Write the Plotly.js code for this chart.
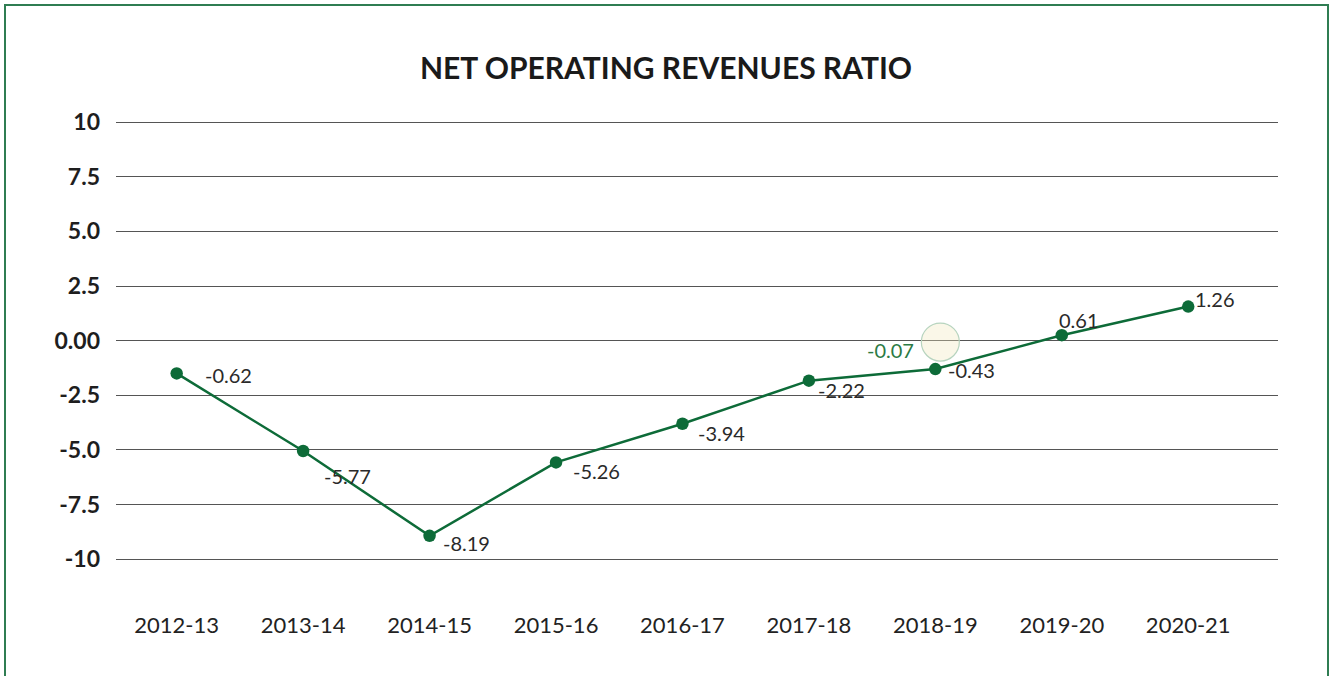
<!DOCTYPE html>
<html>
<head>
<meta charset="utf-8">
<script src="https://cdn.plot.ly/plotly-3.0.1.min.js"></script>
<style>
  body { margin: 0; overflow: hidden; background: #fff; }
  #graph { position: absolute; left: 0; top: 0; width: 1330px; height: 676px; }
  #frame {
    position: absolute; left: 4px; top: 4px; width: 1321px; height: 700px;
    border: 2px solid #2f7d52; border-bottom: none; pointer-events: none;
  }
</style>
</head>
<body>
<div id="graph"></div>
<div id="frame"></div>
<script>
// 年度（カテゴリ）
const years = ["2012-13", "2013-14", "2014-15", "2015-16", "2016-17", "2017-18", "2018-19", "2019-20", "2020-21"];
// 点の位置
const ratioValues = [-1.5, -5.05, -8.93, -5.57, -3.8, -1.83, -1.3, 0.25, 1.56];
// 点の横に表示されるラベル
const ratioLabels = ["-0.62", "-5.77", "-8.19", "-5.26", "-3.94", "-2.22", "-0.43", "0.61", "1.26"];
// y軸の目盛り
const yTickValues = [10, 7.5, 5, 2.5, 0, -2.5, -5, -7.5, -10];
const yTickLabels = ["10", "7.5", "5.0", "2.5", "0.00", "-2.5", "-5.0", "-7.5", "-10"];
// 2018-19 の追加ラベル
const extraLabel = "-0.07";

// ラベルのずらし量（ピクセル）
const labelShiftX = [26, 19, 11, 15, 14, 7, 11, -5, 5];
const labelShiftY = [-2, -25, -7, -9, -9, -9, -1, 15, 8];

const GREEN = "#0d6b38";
const FONT = "Lato, 'Open Sans', sans-serif";

document.addEventListener("DOMContentLoaded", () => {
  const graphDiv = document.getElementById("graph");

  // 折れ線のトレース
  const trace = {
    x: years,
    y: ratioValues,
    mode: "lines+markers",
    type: "scatter",
    line: { color: GREEN, width: 2.5 },
    marker: { color: GREEN, size: 12.5 },
    hoverinfo: "skip",
  };

  // 各点のラベル
  const annotations = years.map((yr, i) => ({
    x: yr,
    y: ratioValues[i],
    text: ratioLabels[i],
    showarrow: false,
    xanchor: "left",
    yanchor: "middle",
    xshift: labelShiftX[i],
    yshift: labelShiftY[i],
    font: { family: FONT, size: 20, color: "#2a2a2a" },
  }));

  // 緑色のラベル（2018-19 の左上）
  annotations.push({
    x: years[6],
    y: ratioValues[6],
    text: extraLabel,
    showarrow: false,
    xanchor: "right",
    yanchor: "middle",
    xshift: -19,
    yshift: 19,
    font: { family: FONT, size: 20, color: "#2b7a45" },
  });

  // ロゴの代わりの小さな円
  const shapes = [{
    type: "circle",
    xref: "x",
    yref: "y",
    xsizemode: "pixel",
    ysizemode: "pixel",
    xanchor: years[6],
    yanchor: ratioValues[6],
    x0: -14, x1: 24,
    y0: 8, y1: 46,
    fillcolor: "rgba(240,232,190,0.35)",
    line: { color: "#b7d4bf", width: 1.2 },
    layer: "above",
  }];

  const layout = {
    width: 1330,
    height: 676,
    margin: { l: 116, r: 52, t: 100, b: 96 },
    paper_bgcolor: "#fff",
    plot_bgcolor: "#fff",
    showlegend: false,
    title: {
      text: "NET OPERATING REVENUES RATIO",
      x: 666 / 1330,
      xanchor: "center",
      xref: "container",
      y: 1 - 68 / 676,
      yanchor: "middle",
      yref: "container",
      font: { family: FONT, size: 30, color: "#1a1a1a", weight: 700 },
    },
    xaxis: {
      type: "category",
      range: [-0.48, 8.71],
      showgrid: false,
      showline: false,
      zeroline: false,
      ticks: "",
      ticklabelstandoff: 30,
      tickfont: { family: FONT, size: 22, color: "#222" },
      fixedrange: true,
    },
    yaxis: {
      range: [-10.95, 11.01],
      tickvals: yTickValues,
      ticktext: yTickLabels,
      showgrid: true,
      gridcolor: "#555",
      gridwidth: 1,
      zeroline: false,
      showline: false,
      ticks: "",
      ticklabelstandoff: 15,
      tickfont: { family: FONT, size: 23, color: "#1e1e1e", weight: 700 },
      fixedrange: true,
    },
    annotations: annotations,
    shapes: shapes,
  };

  Plotly.newPlot(graphDiv, [trace], layout, { displayModeBar: false, staticPlot: true });
});
</script>
</body>
</html>
